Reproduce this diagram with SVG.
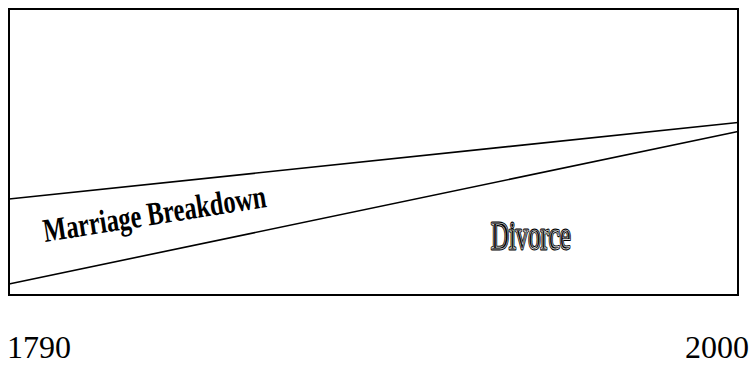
<svg xmlns="http://www.w3.org/2000/svg" width="750" height="365" viewBox="0 0 750 365">
<style>
.frame{fill:#fff;stroke:#000;stroke-width:2}
.ln{stroke:#000;stroke-width:1.6;fill:none}
.serif{font-family:"Liberation Serif","Times New Roman",serif}
.axis{font-size:32px;fill:#000}
</style>
<rect width="750" height="365" fill="#fff"/>
<g id="frame"><rect class="frame" x="9" y="9" width="729" height="286"/></g>
<g id="connectors">
<line class="ln" x1="9" y1="199" x2="738" y2="122.5"/>
<line class="ln" x1="9" y1="284" x2="738" y2="131.5"/>
</g>
<g id="marriage-breakdown">
<text class="serif" font-weight="bold" font-size="33" transform="translate(45,242) rotate(-9) scale(0.74,1)" fill="#000">Marriage Breakdown</text>
</g>
<g id="divorce">
<text class="serif" font-size="40" transform="translate(491,249) scale(0.62,1)" fill="#000" stroke="#000" stroke-width="3" stroke-linejoin="round">Divorce</text>
<text class="serif" font-size="40" transform="translate(491,249) scale(0.62,1)" fill="#000" stroke="#fff" stroke-width="0.7">Divorce</text>
</g>
<g id="label-1790"><text class="serif axis" x="7" y="358">1790</text></g>
<g id="label-2000"><text class="serif axis" x="749" y="358" text-anchor="end">2000</text></g>
</svg>
